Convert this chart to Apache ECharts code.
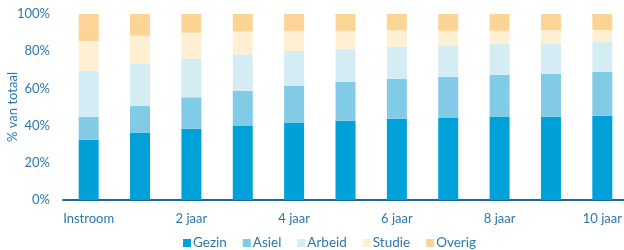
<!DOCTYPE html>
<html>
<head>
<meta charset="utf-8">
<script src="https://cdn.jsdelivr.net/npm/echarts@6/dist/echarts.min.js"></script>
<style>
  html, body { margin: 0; padding: 0; background: #fff; }
  #chart { width: 624px; height: 250px; }
</style>
</head>
<body>
<div id="chart"></div>
<script>
// jaren na instroom
const categories = ['Instroom', '1 jaar', '2 jaar', '3 jaar', '4 jaar', '5 jaar', '6 jaar', '7 jaar', '8 jaar', '9 jaar', '10 jaar']

// aandeel per verblijfsmotief (% van totaal)
const gezin = [32.3, 36.0, 38.3, 40.0, 41.6, 42.6, 43.7, 44.3, 44.6, 44.8, 45.3]
const asiel = [12.5, 14.5, 16.9, 18.8, 19.9, 21.0, 21.5, 22.0, 22.8, 23.1, 23.5]
const arbeid = [24.7, 22.8, 20.8, 19.5, 18.6, 17.7, 17.2, 16.9, 16.7, 16.2, 16.1]
const studie = [16.0, 15.0, 13.9, 12.2, 10.8, 9.7, 8.8, 7.8, 6.9, 7.3, 6.5]
const overig = [14.5, 11.7, 10.1, 9.5, 9.1, 9.0, 8.8, 9.0, 9.0, 8.6, 8.6]

const yTicks = [0, 20, 40, 60, 80, 100]

const textColor = '#2b78b0'
const fontFamily = 'Lato, "Open Sans", sans-serif'

const bar = (name, data, color) => ({
  name,
  type: 'bar',
  stack: 'totaal',
  data,
  barWidth: 20,
  itemStyle: { color },
  emphasis: { disabled: true }
})

const option = {
  animation: false,
  textStyle: { fontFamily },
  grid: {
    left: 63,
    top: 14,
    width: 565,
    height: 186,
    containLabel: false,
    outerBoundsMode: 'none'
  },
  legend: {
    bottom: -5,
    left: 178,
    itemWidth: 8,
    itemHeight: 8,
    itemGap: 16,
    icon: 'rect',
    textStyle: { color: textColor, fontSize: 13.5, padding: [0, 0, 0, -3] },
    data: ['Gezin', 'Asiel', 'Arbeid', 'Studie', 'Overig']
  },
  xAxis: {
    type: 'category',
    data: categories,
    axisLine: { lineStyle: { color: '#1b6a9b', width: 2 } },
    axisTick: { show: false },
    axisLabel: {
      color: textColor,
      fontSize: 13,
      margin: 12,
      interval: 1
    }
  },
  yAxis: {
    type: 'value',
    min: yTicks[0],
    max: yTicks[yTicks.length - 1],
    interval: 20,
    name: '% van totaal',
    nameLocation: 'middle',
    nameGap: 44,
    nameMoveOverlap: false,
    nameTextStyle: { color: textColor, fontSize: 13 },
    axisLine: { show: false },
    axisTick: { show: false },
    splitLine: { show: false },
    axisLabel: {
      color: textColor,
      fontSize: 13,
      margin: 13,
      formatter: '{value}%'
    }
  },
  series: [
    bar('Gezin', gezin, '#00a0d8'),
    bar('Asiel', asiel, '#82cbe7'),
    bar('Arbeid', arbeid, '#d4edf5'),
    bar('Studie', studie, '#fff0d4'),
    bar('Overig', overig, '#fcd596')
  ]
}

const myChart = echarts.init(document.getElementById('chart'), null, { renderer: 'canvas' })
myChart.setOption(option)
</script>
</body>
</html>
